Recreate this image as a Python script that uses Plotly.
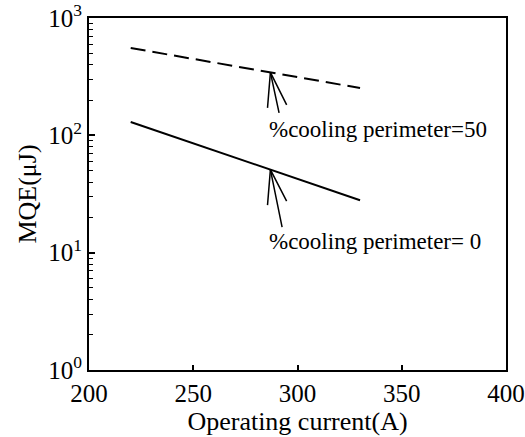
import math
import plotly.graph_objects as go

# Data
current = [220, 330]
mqe_cool50 = [555, 253]
mqe_cool0 = [130, 28]
ytick_vals = [1, 10, 100, 1000]
ytick_text = ["10<sup>0</sup>", "10<sup>1</sup>", "10<sup>2</sup>", "10<sup>3</sup>"]
xtick_vals = [200, 250, 300, 350, 400]
label50 = "%cooling perimeter=50"
label0 = "%cooling perimeter= 0"
arrow_x = 287

FONT = "'Times New Roman', 'Liberation Serif', 'DejaVu Serif', serif"

fig = go.Figure()
fig.add_trace(go.Scatter(x=current, y=mqe_cool50, mode="lines",
                         line=dict(color="black", width=2, dash="15px,7px"), showlegend=False))
fig.add_trace(go.Scatter(x=current, y=mqe_cool0, mode="lines",
                         line=dict(color="black", width=2), showlegend=False))


def interp_log(xs, ys, x):
    t = (x - xs[0]) / (xs[1] - xs[0])
    return math.log10(ys[0]) + t * (math.log10(ys[1]) - math.log10(ys[0]))


annotations = []
for ys, offs in [(mqe_cool50, [(-3, 37), (9, 42), (17, 34)]),
                 (mqe_cool0, [(-3, 37), (12, 59), (17, 33)])]:
    ty = interp_log(current, ys, arrow_x)
    for ax, ay in offs:
        annotations.append(dict(x=arrow_x, y=ty, xref="x", yref="y", ax=ax, ay=ay,
                                axref="pixel", ayref="pixel", text="", showarrow=True,
                                arrowhead=0, arrowwidth=1.5, arrowcolor="black", standoff=0))

annotations.append(dict(x=285.3, y=2.054, xref="x", yref="y", text=label50, showarrow=False,
                        xanchor="left", yanchor="middle", font=dict(family=FONT, size=23, color="black")))
annotations.append(dict(x=285.3, y=1.099, xref="x", yref="y", text=label0, showarrow=False,
                        xanchor="left", yanchor="middle", font=dict(family=FONT, size=23, color="black")))

fig.update_layout(
    width=525, height=437,
    margin=dict(l=89, r=19, t=18, b=67),
    paper_bgcolor="white", plot_bgcolor="white",
    font=dict(family=FONT, size=24, color="black"),
    annotations=annotations,
)
fig.update_xaxes(range=[200, 400], tickvals=xtick_vals, ticks="inside", ticklen=5, tickwidth=1.5,
                 tickcolor="black", showline=True, linecolor="black", linewidth=2, mirror=True,
                 showgrid=False, zeroline=False, automargin=False,
                 tickfont=dict(family=FONT, size=25),
                 title=dict(text="Operating current(A)", font=dict(family=FONT, size=26), standoff=0))
fig.update_yaxes(type="log", range=[0, 3], tickvals=ytick_vals, ticktext=ytick_text,
                 ticks="inside", ticklen=6, tickwidth=1.5, tickcolor="black",
                 minor=dict(ticks="inside", ticklen=4, tickwidth=1.2, tickcolor="black", dtick="D1", showgrid=False),
                 showline=True, linecolor="black", linewidth=2, mirror=True,
                 showgrid=False, zeroline=False, automargin=False,
                 tickfont=dict(family=FONT, size=25),
                 title=dict(text="MQE(μJ)", font=dict(family=FONT, size=26), standoff=4))

fig.write_html("out.html")
